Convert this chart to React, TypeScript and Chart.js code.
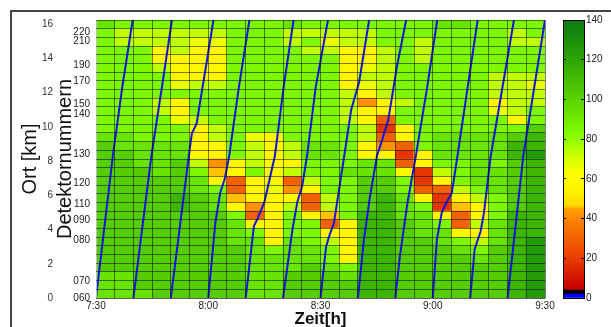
import React, { useEffect, useRef } from 'react';
import { Chart, registerables } from 'chart.js';
Chart.register(...registerables);

Chart.defaults.font.family = '"Liberation Sans", Arial, sans-serif';
Chart.defaults.color = '#222';

// ---------- data ----------
// speed levels (km/h)
const L = 84, G1 = 93, G2 = 102, G3 = 112, G4 = 124;
const YG = 73, Y2 = 66, Y = 56, YO = 45.6, O = 42, OR = 30, R = 18;

const NCOLS = 24; // 5-minute intervals 7:30 - 9:30
const NROWS = 32; // detector sections
const COL_MIN = 5;
const KM_MAX = 16.25;
const ROW_KM = KM_MAX / NROWS;

// rows listed from the top (km 16.25) to the bottom (km 0)
const SPEED_GRID: number[][] = [
  [G1, L, L, L, L, L, L, L, L, L, G1, L, L, L, L, L, L, L, G1, G1, L, L, L, L],
  [L, YG, YG, YG, YG, YG, YG, L, L, L, YG, YG, YG, YG, YG, L, L, L, L, L, L, L, YG, L],
  [L, YG, YG, YG, YG, Y2, Y2, L, L, L, YG, L, Y2, YG, YG, L, L, YG, L, L, L, L, YG, YG],
  [L, L, L, Y, YG, Y, Y, L, L, L, L, YG, YG, Y, Y, YG, L, YG, L, L, L, L, L, L],
  [L, L, L, Y, Y, Y, Y, L, L, L, L, L, L, Y, Y, YG, L, YG, L, L, L, L, L, L],
  [L, L, L, YG, Y, Y, Y, L, L, L, L, L, L, Y, Y2, YG, L, L, L, L, L, L, L, L],
  [L, L, L, L, Y, Y, Y, L, L, L, L, L, L, Y, YG, YG, L, L, L, L, L, YG, YG, YG],
  [L, L, L, L, Y2, YG, YG, L, L, L, L, L, L, Y, Y2, YG, L, L, L, L, L, YG, YG, Y2],
  [L, L, L, L, L, L, L, L, L, L, L, L, L, YG, Y, YG, L, L, L, L, L, YG, YG, YG],
  [L, L, L, YG, Y, L, L, L, L, L, L, L, L, YG, O, Y, YG, L, L, L, L, Y, YG, YG],
  [L, L, L, YG, Y, L, L, L, L, L, L, L, L, YG, Y, Y, L, L, L, L, L, Y2, YG, L],
  [L, L, L, L, Y2, YG, L, L, L, L, L, L, L, YG, Y, OR, L, L, L, L, L, L, Y, L],
  [L, L, L, L, L, Y, YG, L, L, L, L, L, L, L, YG, R, Y, L, L, L, L, L, L, G2],
  [G1, G1, L, L, L, Y, YG, L, Y2, Y, L, L, L, L, YG, OR, Y, L, G1, G1, G1, G1, G2, G3],
  [G2, G1, G1, G1, G1, Y, Y, L, YG, Y, YG, G1, G1, L, Y, O, OR, L, G1, G1, G1, G1, G3, G3],
  [G2, G2, G1, G1, G1, Y, Y, L, YG, Y, YG, G1, G1, L, Y, Y, R, Y, G1, G1, G1, G1, G3, G4],
  [G2, G2, G1, G1, G2, YG, O, Y, YG, Y, Y, L, L, L, G1, G1, OR, Y, L, L, G1, L, G2, G3],
  [G2, G2, G2, G1, G2, L, YO, Y, L, Y, YG, L, L, G1, G1, G1, Y, R, YG, L, G1, G1, G2, G3],
  [G2, G2, G2, G2, G2, G1, Y, OR, Y, Y, OR, YG, L, L, G2, G2, L, R, Y, L, G1, G1, G2, G3],
  [G2, G2, G2, G2, G2, G1, L, OR, Y, Y2, O, Y, L, L, G2, G2, L, OR, OR, YG, L, G1, G2, G3],
  [G2, G2, G2, G2, G3, G2, G1, YO, Y, Y, Y, OR, YG, L, G2, G3, G1, Y, R, Y, YG, L, G2, G3],
  [G2, G2, G2, G2, G3, G2, G1, Y, O, Y, YG, OR, YG, L, G2, G3, G1, L, R, YO, Y, L, G2, G3],
  [G2, G2, G2, G2, G2, G2, G2, L, OR, Y, L, Y, YO, L, G3, G3, G1, G1, Y, OR, Y, L, G3, G3],
  [G2, G2, G2, G2, G2, G2, G2, G1, Y, Y, L, L, OR, Y, G3, G3, G2, G1, L, OR, YG, G1, G3, G3],
  [G2, G2, G2, G2, G2, G2, G2, G1, L, Y, L, L, Y, Y, G3, G3, G2, G1, G1, Y, Y, G1, G3, G3],
  [G2, G2, G2, G2, G2, G2, G2, G1, G1, Y, G1, L, YG, Y, G3, G3, G2, G2, G1, L, YG, G1, G3, G4],
  [G2, G2, G2, G2, G2, G2, G2, G2, G1, L, G1, G1, L, Y, G3, G3, G2, G2, G2, G1, L, G2, G3, G4],
  [G2, G2, G2, G2, G2, G2, G2, G2, G1, G1, G1, G1, L, Y, G3, G3, G2, G2, G2, G2, G1, G2, G3, G4],
  [G2, G2, G2, G2, G2, G2, G2, G2, G1, G1, G1, G2, G1, L, G3, G3, G2, G2, G2, G2, G2, G2, G3, G4],
  [G1, G1, G2, G2, G2, G2, G2, G2, G1, G1, G2, G2, G2, G1, G3, G3, G2, G2, G2, G2, G2, G2, G3, G4],
  [G1, G1, G2, G2, G2, G2, G2, G2, G1, G1, G2, G2, G2, G2, G3, G3, G2, G2, G2, G2, G2, G2, G3, G4],
  [G1, G1, G1, G2, G2, G2, G2, G2, G1, G1, G2, G2, G2, G2, G3, G3, G2, G2, G2, G2, G2, G2, G3, G4],
];

// vehicle trajectories: [minutes after 7:30, km]
const VEH_1 = [[0, 0], [4.5, 8.3], [7.0, 12.3], [9.8, 16.25]];
const VEH_2 = [[10, 0], [14.8, 8.3], [17.6, 12.3], [20.3, 16.25]];
const VEH_3 = [[20, 0], [24.8, 8.3], [25.6, 9.6], [26.9, 10.2], [31.4, 16.25]];
const VEH_4 = [[30, 0], [31.9, 4.4], [33.2, 6.15], [34.4, 6.95], [35.6, 8.3], [38.1, 12.2], [41.0, 16.25]];
const VEH_5 = [[40, 0], [42.2, 4.2], [43.1, 4.6], [45.0, 5.6], [47.8, 8.3], [50.2, 12.4], [52.8, 16.25]];
const VEH_6 = [[50, 0], [52.5, 4.0], [53.8, 5.6], [55.1, 6.55], [56.4, 8.3], [58.7, 12.3], [62.0, 16.25]];
const VEH_7 = [[60, 0], [61.5, 3.0], [62.3, 3.6], [63.6, 4.4], [66.2, 8.1], [68.2, 11.0], [70.3, 12.6], [73.0, 16.25]];
const VEH_8 = [[70, 0], [71.6, 3.4], [73.2, 5.9], [75.1, 8.3], [75.9, 8.85], [78.1, 10.4], [79.0, 11.6], [80.4, 13.5], [82.9, 16.25]];
const VEH_9 = [[80, 0], [81.2, 2.4], [83.2, 5.5], [84.5, 7.1], [85.4, 8.2], [88.5, 12.3], [91.2, 16.25]];
const VEH_10 = [[90, 0], [91.1, 3.4], [92.4, 5.0], [93.7, 5.6], [95.1, 6.15], [96.6, 8.3], [102.0, 16.25]];
const VEH_11 = [[100, 0], [101.2, 2.85], [102.8, 3.9], [103.7, 5.0], [105.5, 8.3], [111.7, 16.25]];
const VEH_12 = [[110, 0], [114.2, 8.3], [120, 16.25]];
const TRAJECTORIES = [VEH_1, VEH_2, VEH_3, VEH_4, VEH_5, VEH_6, VEH_7, VEH_8, VEH_9, VEH_10, VEH_11, VEH_12];

const X_TICK_VALUES = [0, 30, 60, 90, 120];
const X_TICK_LABELS = ['7:30', '8:00', '8:30', '9:00', '9:30'];
const KM_TICKS = [0, 2, 4, 6, 8, 10, 12, 14, 16];
const DET_KM = [0, 0.95, 3.39, 4.56, 5.49, 6.7, 8.42, 10.75, 11.32, 12.68, 13.6, 14.98, 15.53];
const DET_LABELS = ['060', '070', '080', '090', '110', '120', '130', '140', '150', '170', '190', '210', '220'];
const CB_TICKS = [0, 20, 40, 60, 80, 100, 120, 140];
const CB_MAX = 140;

// ---------- colour map ----------
const CMAP_V = [4.5, 20, 38, 45, 46, 55, 62, 70, 78, 84, 93, 102, 112, 124, 140];
const CMAP_RGB = [
  [200, 0, 0], [232, 62, 0], [250, 125, 0], [255, 160, 0], [255, 215, 0], [255, 245, 0], [255, 255, 0],
  [215, 255, 0], [155, 255, 0], [125, 248, 0], [105, 228, 0], [85, 205, 0], [62, 182, 0], [38, 155, 8], [12, 122, 22],
];
function speedColor(v: number): string {
  if (v < 2.4) return 'rgb(0,0,255)';
  if (v < 4.5) return 'rgb(0,0,0)';
  if (v >= CMAP_V[CMAP_V.length - 1]) {
    const c = CMAP_RGB[CMAP_RGB.length - 1];
    return `rgb(${c[0]},${c[1]},${c[2]})`;
  }
  for (let i = 0; i < CMAP_V.length - 1; i++) {
    if (v >= CMAP_V[i] && v <= CMAP_V[i + 1]) {
      const f = (v - CMAP_V[i]) / (CMAP_V[i + 1] - CMAP_V[i]);
      const a = CMAP_RGB[i], b = CMAP_RGB[i + 1];
      const r = Math.round(a[0] + (b[0] - a[0]) * f);
      const g = Math.round(a[1] + (b[1] - a[1]) * f);
      const bl = Math.round(a[2] + (b[2] - a[2]) * f);
      return `rgb(${r},${g},${bl})`;
    }
  }
  return 'rgb(0,0,0)';
}

const GRID = 'rgba(0,0,0,0.5)';
const BLUE = '#1414e6';

function mainConfig(): any {
  const cells: any[] = [];
  const colors: string[] = [];
  SPEED_GRID.forEach((row, t) => {
    const r = NROWS - 1 - t;
    row.forEach((v, c) => {
      cells.push({ x: c * COL_MIN + COL_MIN / 2, y: [r * ROW_KM, (r + 1) * ROW_KM] });
      colors.push(speedColor(v));
    });
  });
  const colEdges = Array.from({ length: NCOLS + 1 }, (_, i) => i * COL_MIN);
  const rowEdges = Array.from({ length: NROWS + 1 }, (_, i) => i * ROW_KM);

  return {
    type: 'bar',
    data: {
      datasets: [
        ...TRAJECTORIES.map((tr) => ({
          type: 'line',
          data: tr.map(([t, k]) => ({ x: t, y: k })),
          borderColor: BLUE,
          borderWidth: 2,
          pointRadius: 0,
          fill: false,
          tension: 0,
          order: 0,
          xAxisID: 'x',
          yAxisID: 'y',
        })),
        {
          type: 'bar',
          data: cells,
          backgroundColor: colors,
          borderWidth: 0,
          barPercentage: 1,
          categoryPercentage: 1,
          grouped: false,
          order: 1,
          xAxisID: 'x',
          yAxisID: 'y',
        },
      ],
    },
    options: {
      responsive: false,
      animation: false,
      devicePixelRatio: 1,
      layout: { padding: { left: 0, right: 66, top: 20, bottom: 0 } },
      plugins: { legend: { display: false }, tooltip: { enabled: false } },
      scales: {
        x: {
          type: 'linear',
          min: 0,
          max: NCOLS * COL_MIN,
          offset: false,
          afterBuildTicks: (s: any) => { s.ticks = colEdges.map((v) => ({ value: v })); },
          ticks: {
            autoSkip: false, maxRotation: 0, minRotation: 0, padding: 2,
            font: { size: 10 }, color: '#222',
            callback: (v: any) => { const i = X_TICK_VALUES.indexOf(Number(v)); return i >= 0 ? X_TICK_LABELS[i] : ''; },
          },
          grid: { color: GRID, lineWidth: 1, drawTicks: false, offset: false, z: 1 },
          border: { display: true, color: '#c0c0c0', z: 1 },
          title: { display: true, text: 'Zeit[h]', font: { size: 17, weight: 'bold', lineHeight: 1 }, color: '#111', padding: { top: 0, bottom: -1 } },
          afterFit: (s: any) => { s.height = 29; },
        },
        y: {
          type: 'linear', position: 'left', min: 0, max: KM_MAX, weight: 1,
          afterBuildTicks: (s: any) => { s.ticks = KM_TICKS.map((v) => ({ value: v })); },
          ticks: { font: { size: 10 }, color: '#333', padding: 4, autoSkip: false, callback: (v: any) => String(v) },
          grid: { display: false, drawTicks: false },
          border: { display: false },
          title: { display: true, text: 'Ort [km]', font: { size: 20, lineHeight: 1.2 }, color: '#111', padding: { top: 18, bottom: 0 } },
          afterFit: (s: any) => { s.width = 57; },
        },
        det: {
          type: 'linear', position: 'left', min: 0, max: KM_MAX, weight: 0,
          afterBuildTicks: (s: any) => { s.ticks = DET_KM.map((v) => ({ value: v })); },
          ticks: { font: { size: 10 }, color: '#222', padding: 6, autoSkip: false, callback: (_v: any, i: number) => DET_LABELS[i] },
          grid: { display: false, drawTicks: false },
          border: { display: true, color: '#c0c0c0', z: 1 },
          title: { display: true, text: 'Detektornummern', font: { size: 20, lineHeight: 1.2 }, color: '#111', padding: { top: -4, bottom: 0 } },
          afterFit: (s: any) => { s.width = 39; },
        },
        rows: {
          type: 'linear', position: 'left', min: 0, max: KM_MAX, weight: -1,
          afterBuildTicks: (s: any) => { s.ticks = rowEdges.map((v) => ({ value: v })); },
          ticks: { display: false },
          grid: { color: GRID, lineWidth: 1, drawTicks: false, z: 1 },
          border: { display: false },
          afterFit: (s: any) => { s.width = 0; },
        },
      },
    },
  };
}

function cbConfig(): any {
  const levels = Array.from({ length: CB_MAX }, (_, i) => i);
  const setTicks = (s: any) => { s.ticks = CB_TICKS.map((v) => ({ value: v })); };
  return {
    type: 'bar',
    data: {
      labels: [''],
      datasets: levels.map((v) => ({
        data: [[v, v + 1]],
        backgroundColor: speedColor(v + 0.5),
        borderWidth: 0,
        barPercentage: 1,
        categoryPercentage: 1,
        grouped: false,
        xAxisID: 'x',
        yAxisID: 'y',
      })),
    },
    options: {
      responsive: false,
      animation: false,
      devicePixelRatio: 1,
      layout: { padding: { left: 8, top: 20, bottom: 29, right: 0 } },
      plugins: { legend: { display: false }, tooltip: { enabled: false } },
      scales: {
        x: {
          type: 'category', display: true,
          ticks: { display: false }, grid: { display: false, drawTicks: false },
          border: { display: true, color: '#000', z: 1 },
          afterFit: (s: any) => { s.height = 0; },
        },
        xt: {
          type: 'linear', position: 'top', display: true,
          ticks: { display: false }, grid: { display: false, drawTicks: false },
          border: { display: true, color: '#000', z: 1 },
          afterFit: (s: any) => { s.height = 0; },
        },
        y: {
          type: 'linear', position: 'right', min: 0, max: CB_MAX,
          afterBuildTicks: setTicks,
          ticks: { font: { size: 10 }, color: '#222', padding: 5 },
          grid: { display: true, drawOnChartArea: false, drawTicks: true, tickLength: -3, color: '#000', z: 1 },
          border: { display: true, color: '#000', z: 1 },
          afterFit: (s: any) => { s.width = 27; },
        },
        yl: {
          type: 'linear', position: 'left', min: 0, max: CB_MAX, display: true,
          afterBuildTicks: setTicks,
          ticks: { display: false },
          grid: { display: true, drawOnChartArea: false, drawTicks: true, tickLength: -3, color: '#000', z: 1 },
          border: { display: true, color: '#000', z: 1 },
          afterFit: (s: any) => { s.width = 0; },
        },
      },
    },
  };
}

export default function App() {
  const mainRef = useRef<HTMLCanvasElement>(null);
  const cbRef = useRef<HTMLCanvasElement>(null);
  useEffect(() => {
    const main = new Chart(mainRef.current as HTMLCanvasElement, mainConfig());
    const cb = new Chart(cbRef.current as HTMLCanvasElement, cbConfig());
    return () => {
      main.destroy();
      cb.destroy();
    };
  }, []);
  return (
    <div style={{ position: 'fixed', left: 0, top: 0, width: 611, height: 327, overflow: 'hidden', background: '#fff' }}>
      <div style={{ position: 'absolute', left: 10, top: 10, width: 700, height: 400, borderTop: '2px solid #444', borderLeft: '2px solid #444' }} />
      <canvas ref={mainRef} width={611} height={327} style={{ position: 'absolute', left: 0, top: 0, width: 611, height: 327 }} />
      <canvas ref={cbRef} width={56} height={327} style={{ position: 'absolute', left: 555, top: 0, width: 56, height: 327 }} />
    </div>
  );
}
